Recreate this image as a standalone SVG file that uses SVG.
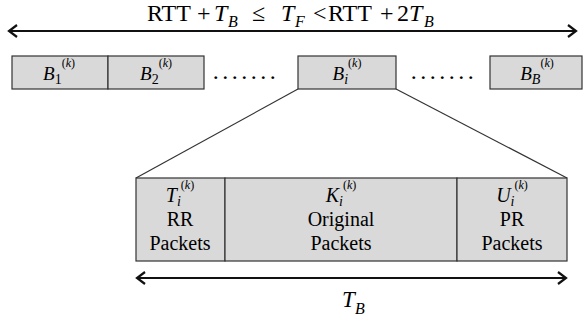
<svg xmlns="http://www.w3.org/2000/svg" width="583" height="322" viewBox="0 0 583 322">
<style>
.t{font-family:"Liberation Serif","Times New Roman",serif;fill:#000}
.i{font-style:italic}
.box{fill:#d9d9d9;stroke:#333;stroke-width:1.2}
.ln{stroke:#333;stroke-width:1.2;fill:none}
.arr{stroke:#111;stroke-width:2.2;fill:none}
.dots{font-family:"Liberation Serif",serif;font-size:24px;fill:#000;letter-spacing:3.5px}
</style>
<rect width="583" height="322" fill="#fff"/>
<g id="top-arrow">
<line class="arr" x1="9" y1="31" x2="576" y2="31"/>
<polyline class="arr" points="17,25 9,31 17,37"/>
<polyline class="arr" points="568,25 576,31 568,37"/>
<text class="t" y="21" font-size="24"><tspan x="147">RTT</tspan><tspan x="197">+</tspan><tspan class="i" x="214">T</tspan><tspan class="i" font-size="16" x="228" dy="6">B</tspan><tspan x="252" dy="-6">≤</tspan><tspan class="i" x="281">T</tspan><tspan class="i" font-size="16" x="295" dy="6">F</tspan><tspan x="313" dy="-6">&lt;</tspan><tspan x="328">RTT</tspan><tspan x="380">+</tspan><tspan x="397">2</tspan><tspan class="i" x="409">T</tspan><tspan class="i" font-size="16" x="424" dy="6">B</tspan></text>
</g>
<g id="B1">
<rect class="box" x="12" y="56" width="96" height="33"/>
<text class="t" x="59" y="80" font-size="19" text-anchor="middle"><tspan class="i">B</tspan><tspan font-size="14" dy="4">1</tspan><tspan font-size="12" dy="-17">(<tspan class="i">k</tspan>)</tspan></text>
</g>
<g id="B2">
<rect class="box" x="108" y="56" width="96" height="33"/>
<text class="t" x="156" y="80" font-size="19" text-anchor="middle"><tspan class="i">B</tspan><tspan font-size="14" dy="4">2</tspan><tspan font-size="12" dy="-17">(<tspan class="i">k</tspan>)</tspan></text>
</g>
<g id="dots1"><text class="dots" x="246" y="79" text-anchor="middle">.......</text></g>
<g id="Bi">
<rect class="box" x="298" y="56" width="98" height="33"/>
<text class="t" x="347" y="80" font-size="19" text-anchor="middle"><tspan class="i">B</tspan><tspan class="i" font-size="14" dy="4">i</tspan><tspan font-size="12" dy="-17">(<tspan class="i">k</tspan>)</tspan></text>
</g>
<g id="dots2"><text class="dots" x="444" y="79" text-anchor="middle">.......</text></g>
<g id="BB">
<rect class="box" x="490" y="56" width="92" height="33"/>
<text class="t" x="537" y="80" font-size="19" text-anchor="middle"><tspan class="i">B</tspan><tspan class="i" font-size="14" dy="4">B</tspan><tspan font-size="12" dy="-17">(<tspan class="i">k</tspan>)</tspan></text>
</g>
<g id="connectors">
<line class="ln" x1="298" y1="89" x2="136" y2="178"/>
<line class="ln" x1="396" y1="89" x2="567" y2="178"/>
</g>
<g id="T-cell">
<rect class="box" x="136" y="178" width="89" height="83"/>
<text class="t" x="180" y="202" font-size="20" text-anchor="middle"><tspan class="i">T</tspan><tspan class="i" font-size="14" dy="4">i</tspan><tspan font-size="12" dy="-17">(<tspan class="i">k</tspan>)</tspan></text>
<text class="t" x="180" y="226" font-size="20" text-anchor="middle">RR</text>
<text class="t" x="180" y="250" font-size="20" text-anchor="middle">Packets</text>
</g>
<g id="K-cell">
<rect class="box" x="225" y="178" width="232" height="83"/>
<text class="t" x="341" y="202" font-size="20" text-anchor="middle"><tspan class="i">K</tspan><tspan class="i" font-size="14" dy="4">i</tspan><tspan font-size="12" dy="-17">(<tspan class="i">k</tspan>)</tspan></text>
<text class="t" x="341" y="226" font-size="20" text-anchor="middle">Original</text>
<text class="t" x="341" y="250" font-size="20" text-anchor="middle">Packets</text>
</g>
<g id="U-cell">
<rect class="box" x="457" y="178" width="110" height="83"/>
<text class="t" x="512" y="202" font-size="20" text-anchor="middle"><tspan class="i">U</tspan><tspan class="i" font-size="14" dy="4">i</tspan><tspan font-size="12" dy="-17">(<tspan class="i">k</tspan>)</tspan></text>
<text class="t" x="512" y="226" font-size="20" text-anchor="middle">PR</text>
<text class="t" x="512" y="250" font-size="20" text-anchor="middle">Packets</text>
</g>
<g id="bottom-arrow">
<line class="arr" x1="137" y1="278" x2="566" y2="278"/>
<polyline class="arr" points="145,272 137,278 145,284"/>
<polyline class="arr" points="558,272 566,278 558,284"/>
<text class="t" y="307" font-size="23"><tspan class="i" x="342">T</tspan><tspan class="i" font-size="16" x="355" dy="7">B</tspan></text>
</g>
</svg>
